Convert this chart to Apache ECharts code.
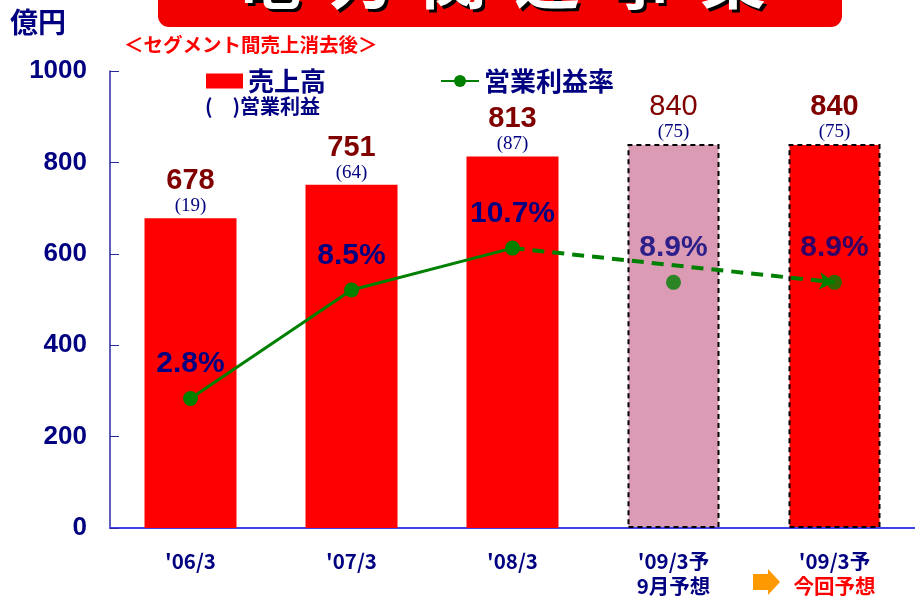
<!DOCTYPE html>
<html>
<head>
<meta charset="utf-8">
<script src="https://cdn.jsdelivr.net/npm/echarts@6/dist/echarts.min.js"></script>
<style>
  html, body { margin: 0; padding: 0; background: #fff; }
  #chart { width: 915px; height: 598px; }
</style>
</head>
<body>
<div id="chart"></div>
<script>
// 電力関連事業 — 売上高 (bars) + 営業利益率 (line)

const categories = ["'06/3", "'07/3", "'08/3", "'09/3予\n9月予想", "'09/3予\n今回予想"];
const sales      = [678, 751, 813, 840, 840];   // 億円
const opProfit   = [19, 64, 87, 75, 75];        // 億円, shown in ( )
const opMargin   = [2.8, 8.5, 10.7, 8.9, 8.9];  // %
const yTicks     = { min: 0, max: 1000, interval: 200 };
const titleChars = ['電', '力', '関', '連', '事', '業'];

const NAVY = '#000080';
const DARK_RED = '#800000';
const RED = '#FF0000';
const PINK = '#DB9BB4';
const GREEN = '#008000';
const JP = '"Noto Sans CJK JP"';
const NUM = '"Liberation Sans", Arial';

const el = document.getElementById('chart');
const c = echarts.init(el, null, { renderer: 'canvas' });

// bars 1-3 actual, 4 = previous forecast (pink), 5 = current forecast
const barData = sales.map((v, i) => {
  if (i < 3) return { value: v, itemStyle: { color: RED } };
  return {
    value: v,
    itemStyle: {
      color: i === 3 ? PINK : RED,
      borderColor: '#000', borderWidth: 2, borderType: [5, 4],
    },
  };
});

// solid part: actuals; dashed part: '08/3 -> current forecast; markers for forecasts
const solidLine  = opMargin.map((v, i) => i < 3 ? v : null);
const dashedLine = opMargin.map((v, i) => {
  if (i === 2) return { value: v, symbol: 'none' };
  if (i === 4) return v;
  return null;
});
const fcMarkers  = opMargin.map((v, i) => i >= 3 ? v : null);

const pctLabel = {
  show: true, position: 'top', distance: 12,
  color: NAVY, fontFamily: NUM, fontWeight: 'bold', fontSize: 30,
  formatter: p => p.value == null ? '' : p.value.toFixed(1) + '%',
};

const graphics = [
  // title banner, mostly cut off at the top
  { type: 'rect', shape: { x: 158, y: -20, width: 684, height: 47, r: 11 }, style: { fill: '#F20000' }, z: 10 },
];
titleChars.forEach((ch, i) => {
  const x = 268 + 93 * i;
  graphics.push({ type: 'text', x: x + 3, y: 14, z: 11,
    style: { text: ch, fill: '#000', font: `bold 66px ${JP}`, align: 'center', verticalAlign: 'bottom' } });
  graphics.push({ type: 'text', x: x, y: 11, z: 12,
    style: { text: ch, fill: '#fff', font: `bold 66px ${JP}`, align: 'center', verticalAlign: 'bottom' } });
});
graphics.push(
  { type: 'text', x: 10, y: 22, style: { text: '億円', fill: NAVY, font: `bold 28px ${JP}`, verticalAlign: 'middle' } },
  { type: 'text', x: 124, y: 45, style: { text: '＜セグメント間売上消去後＞', fill: RED, font: `bold 19.5px ${JP}`, verticalAlign: 'middle' } },
  { type: 'text', x: 205, y: 106, style: { text: '(　)営業利益', fill: NAVY, font: `bold 20px ${JP}`, verticalAlign: 'middle' } },
  // orange arrow between the two forecast labels
  { type: 'polygon', shape: { points: [[753, 574], [768, 574], [768, 569], [780, 582], [768, 595], [768, 590], [753, 590]] },
    style: { fill: '#FF9900' } },
);

c.setOption({
  animation: false,
  grid: { left: 110, top: 71, width: 810, height: 457, containLabel: false },
  legend: [
    {
      data: ['売上高'], left: 201, top: 63, icon: 'rect', itemWidth: 37, itemHeight: 15, itemGap: 0,
      textStyle: { color: NAVY, fontFamily: JP, fontWeight: 'bold', fontSize: 26 },
    },
    {
      data: ['営業利益率'], left: 435, top: 63, itemWidth: 38, itemHeight: 15, itemGap: 0,
      textStyle: { color: NAVY, fontFamily: JP, fontWeight: 'bold', fontSize: 26 },
    },
  ],
  xAxis: {
    type: 'category', data: categories,
    axisLine: { lineStyle: { color: '#4040E8', width: 2 } },
    axisTick: { inside: true, length: 8, lineStyle: { color: '#2020B0' } },
    axisLabel: {
      margin: 21, interval: 0,
      formatter: (v, i) => {
        const [a, b] = v.split('\n');
        if (!b) return `{a|${a}}`;
        return `{a|${a}}\n{${i === 4 ? 'r' : 'a'}|${b}}`;
      },
      rich: {
        a: { color: NAVY, fontFamily: JP, fontWeight: 'bold', fontSize: 20.5, lineHeight: 25 },
        r: { color: RED, fontFamily: JP, fontWeight: 'bold', fontSize: 20.5, lineHeight: 25 },
      },
    },
  },
  yAxis: [
    {
      type: 'value', ...yTicks,
      axisLine: { show: true, lineStyle: { color: '#2A2AA0', width: 1.5 } },
      axisTick: { show: true, inside: true, length: 9, lineStyle: { color: '#2A2AA0' } },
      splitLine: { show: false },
      axisLabel: { margin: 23, color: NAVY, fontFamily: NUM, fontWeight: 'bold', fontSize: 26, formatter: v => String(v) },
    },
    { type: 'value', min: -4, max: 20, show: false, splitLine: { show: false } },
  ],
  series: [
    {
      name: '売上高', type: 'bar', data: barData, barWidth: 92, z: 2,
      itemStyle: { color: RED },
      label: {
        show: true, position: 'top', distance: 2,
        formatter: p => {
          const n = p.dataIndex === 3 ? 'm' : 'n';
          return `{${n}|${sales[p.dataIndex]}}\n{o|(${opProfit[p.dataIndex]})}`;
        },
        rich: {
          n: { color: DARK_RED, fontFamily: NUM, fontWeight: 'bold', fontSize: 29, lineHeight: 30 },
          m: { color: DARK_RED, fontFamily: NUM, fontWeight: 'normal', fontSize: 29, lineHeight: 30 },
          o: { color: NAVY, fontFamily: '"Liberation Serif", serif', fontSize: 19, lineHeight: 20 },
        },
      },
    },
    {
      name: '営業利益率dash', type: 'line', yAxisIndex: 1, data: dashedLine, connectNulls: true, z: 3,
      symbol: 'arrow', symbolSize: [13, 15], symbolRotate: -96,
      lineStyle: { color: GREEN, width: 4, type: [12, 8] },
      itemStyle: { color: GREEN },
    },
    {
      name: '営業利益率', type: 'line', yAxisIndex: 1, data: solidLine, z: 4,
      symbol: 'circle', symbolSize: 15, showAllSymbol: true,
      lineStyle: { color: GREEN, width: 3 },
      itemStyle: { color: GREEN },
      label: pctLabel,
    },
    {
      name: '営業利益率fc', type: 'scatter', yAxisIndex: 1, data: fcMarkers, z: 5,
      symbol: 'circle', symbolSize: 15,
      itemStyle: { color: GREEN },
      label: pctLabel,
    },
  ],
  graphic: graphics,
});
</script>
</body>
</html>
